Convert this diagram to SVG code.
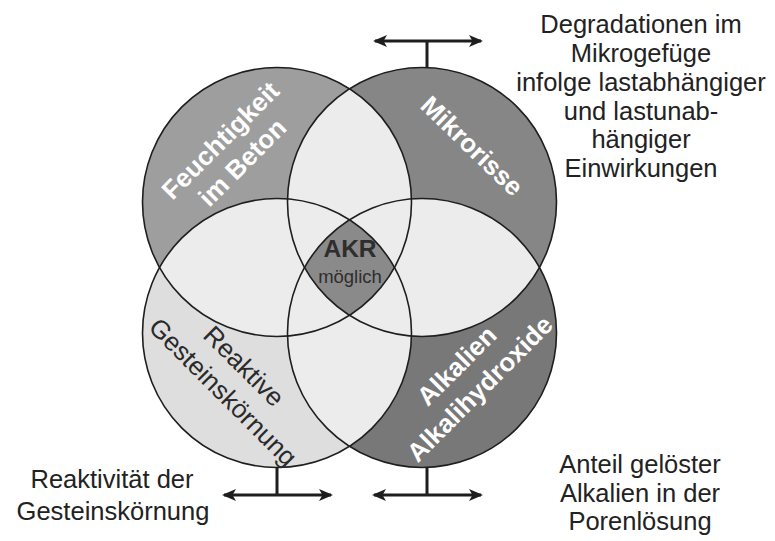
<svg xmlns="http://www.w3.org/2000/svg" width="775" height="541" viewBox="0 0 775 541">
  <style>
    text { font-family: "Liberation Sans", Arial, sans-serif; }
    .ring { fill: none; stroke: #1e1e1e; stroke-width: 1.6; }
    .lab { font-size: 26px; font-weight: bold; fill: #ffffff; text-anchor: middle; }
    .labd { font-size: 26px; fill: #2a2a2a; text-anchor: middle; }
    .side { font-size: 25.5px; fill: #222222; text-anchor: middle; }
    .bar { fill: none; stroke: #1e1e1e; stroke-width: 3; }
    .ov { fill: #ececec; }
  </style>
  <defs>
    <marker id="head" viewBox="0 0 14 12" refX="12" refY="6" markerWidth="14" markerHeight="12" markerUnits="userSpaceOnUse" orient="auto-start-reverse">
      <path d="M0,0 L14,6 L0,12 L3.5,6 z" fill="#1e1e1e"/>
    </marker>
    <clipPath id="cTL"><circle cx="277" cy="202" r="134.5"/></clipPath>
    <clipPath id="cTR"><circle cx="422" cy="202" r="134.5"/></clipPath>
    <clipPath id="cBL"><circle cx="277" cy="333" r="134.5"/></clipPath>
    <clipPath id="cBR"><circle cx="422" cy="333" r="134.5"/></clipPath>
    <clipPath id="xTL"><circle cx="422" cy="202" r="134.5"/><circle cx="277" cy="333" r="134.5"/><circle cx="422" cy="333" r="134.5"/></clipPath>
    <clipPath id="xTR"><circle cx="277" cy="202" r="134.5"/><circle cx="277" cy="333" r="134.5"/><circle cx="422" cy="333" r="134.5"/></clipPath>
    <clipPath id="xBL"><circle cx="277" cy="202" r="134.5"/><circle cx="422" cy="202" r="134.5"/><circle cx="422" cy="333" r="134.5"/></clipPath>
    <clipPath id="xBR"><circle cx="277" cy="202" r="134.5"/><circle cx="422" cy="202" r="134.5"/><circle cx="277" cy="333" r="134.5"/></clipPath>
  </defs>
  <rect width="775" height="541" fill="#ffffff"/>

  <!-- base fills of the four sets -->
  <g id="set-feuchtigkeit">
    <circle cx="277" cy="202" r="134.5" fill="#9e9e9e"/>
  </g>
  <g id="set-mikrorisse">
    <circle cx="422" cy="202" r="134.5" fill="#868686"/>
  </g>
  <g id="set-gestein">
    <circle cx="277" cy="333" r="134.5" fill="#dedede"/>
  </g>
  <g id="set-alkalien">
    <circle cx="422" cy="333" r="134.5" fill="#787878"/>
  </g>

  <!-- overlap areas -->
  <g id="overlaps">
    <circle class="ov" cx="277" cy="202" r="134.5" clip-path="url(#xTL)"/>
    <circle class="ov" cx="422" cy="202" r="134.5" clip-path="url(#xTR)"/>
    <circle class="ov" cx="277" cy="333" r="134.5" clip-path="url(#xBL)"/>
    <circle class="ov" cx="422" cy="333" r="134.5" clip-path="url(#xBR)"/>
  </g>

  <!-- common core of all four sets -->
  <g id="akr">
    <g clip-path="url(#cBR)">
      <g clip-path="url(#cBL)">
        <circle cx="277" cy="202" r="134.5" fill="#8a8a8a" clip-path="url(#cTR)"/>
      </g>
    </g>
    <text x="350" y="257" font-size="24.5" font-weight="bold" fill="#2e2e2e" text-anchor="middle">AKR</text>
    <text x="350" y="283" font-size="18.5" fill="#2e2e2e" text-anchor="middle">möglich</text>
  </g>

  <!-- outlines -->
  <g id="outlines">
    <circle class="ring" cx="277" cy="202" r="134.5"/>
    <circle class="ring" cx="422" cy="202" r="134.5"/>
    <circle class="ring" cx="277" cy="333" r="134.5"/>
    <circle class="ring" cx="422" cy="333" r="134.5"/>
  </g>

  <!-- set labels -->
  <g id="label-feuchtigkeit" transform="translate(231,151) rotate(-45)">
    <text class="lab" x="0" y="-6">Feuchtigkeit</text>
    <text class="lab" x="0" y="25">im Beton</text>
  </g>
  <g id="label-mikrorisse" transform="translate(472,146) rotate(44)">
    <text class="lab" x="0" y="9">Mikrorisse</text>
  </g>
  <g id="label-gestein" transform="translate(233.5,379) rotate(45)">
    <text class="labd" x="-1.75" y="-7.6">Reaktive</text>
    <text class="labd" x="1.75" y="25.6">Gesteinskörnung</text>
  </g>
  <g id="label-alkalien" transform="translate(468,377) rotate(-45)">
    <text class="lab" x="0" y="-7">Alkalien</text>
    <text class="lab" x="0" y="25.6">Alkalihydroxide</text>
  </g>

  <!-- connectors: double arrows with stems -->
  <g id="connectors">
    <path class="bar" d="M427,67 V41"/>
    <path class="bar" d="M375,41 H481" marker-start="url(#head)" marker-end="url(#head)"/>
    <path class="bar" d="M277,467 V495"/>
    <path class="bar" d="M224,495 H331" marker-start="url(#head)" marker-end="url(#head)"/>
    <path class="bar" d="M427,467 V495"/>
    <path class="bar" d="M374,495 H481" marker-start="url(#head)" marker-end="url(#head)"/>
  </g>

  <!-- side notes -->
  <g id="note-mikrogefuege">
    <text class="side" x="641" y="33">Degradationen im</text>
    <text class="side" x="641" y="62">Mikrogefüge</text>
    <text class="side" x="641" y="91">infolge lastabhängiger</text>
    <text class="side" x="641" y="120">und lastunab-</text>
    <text class="side" x="641" y="148">hängiger</text>
    <text class="side" x="641" y="177">Einwirkungen</text>
  </g>
  <g id="note-reaktivitaet">
    <text class="side" x="112" y="488">Reaktivität der</text>
    <text class="side" x="113" y="520">Gesteinskörnung</text>
  </g>
  <g id="note-porenloesung">
    <text class="side" x="640" y="473">Anteil gelöster</text>
    <text class="side" x="640" y="502">Alkalien in der</text>
    <text class="side" x="640" y="530">Porenlösung</text>
  </g>
</svg>
